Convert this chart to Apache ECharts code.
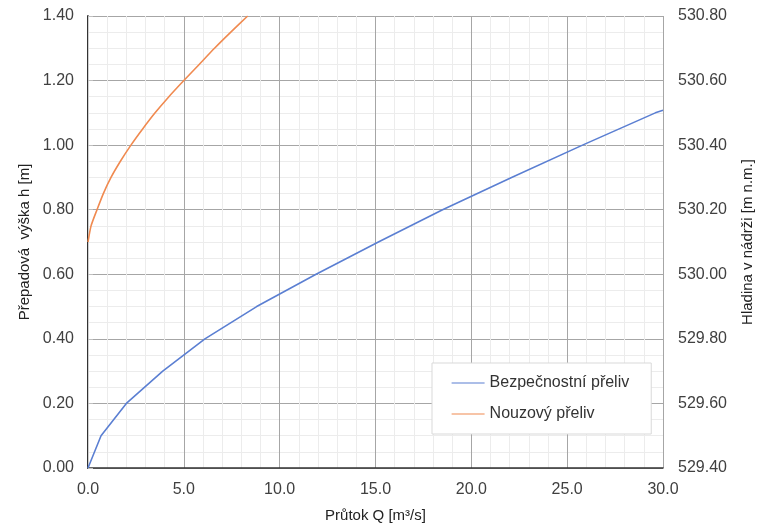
<!DOCTYPE html>
<html>
<head>
<meta charset="utf-8">
<script src="https://cdn.jsdelivr.net/npm/echarts@6/dist/echarts.min.js"></script>
<style>html,body{margin:0;padding:0;background:#fff}#c{width:767px;height:528px}</style>
</head>
<body>
<div id="c"></div>
<script>
// Bezpečnostní přeliv: Q [m3/s] vs h [m]
const safetyQ = [0, 0.68, 2.0, 3.9, 6.1, 8.8, 11.9, 15.15, 18.5, 22.1, 25.8, 29.6, 30.0];
const safetyH = [0, 0.10, 0.20, 0.30, 0.40, 0.50, 0.60, 0.70, 0.80, 0.90, 1.00, 1.10, 1.108];
// Nouzový přeliv
const emergQ = [0, 0.16, 0.47, 0.8, 1.2, 1.69, 2.24, 2.85, 3.5, 4.22, 5.0, 5.8, 6.6, 7.45, 8.33];
const emergH = [0.70, 0.75, 0.80, 0.85, 0.90, 0.95, 1.00, 1.05, 1.10, 1.15, 1.20, 1.25, 1.30, 1.35, 1.40];
const seriesNames = ['Bezpečnostní přeliv', 'Nouzový přeliv'];

const font = 'Liberation Sans, Arial, sans-serif';
const labelColor = '#404040';
const chart = echarts.init(document.getElementById('c'));
chart.setOption({
  animation: false,
  textStyle: { fontFamily: font },
  grid: { left: 88, right: 104, top: 16, bottom: 58, containLabel: false },
  legend: {
    orient: 'vertical',
    left: 432, top: 363,
    padding: [12, 22, 12, 19],
    itemWidth: 33, itemHeight: 14, itemGap: 15,
    backgroundColor: '#fff',
    borderColor: '#d9d9d9', borderWidth: 1,
    itemStyle: { opacity: 0 },
    lineStyle: { width: 1.2 },
    textStyle: { fontFamily: font, fontSize: 16, color: '#333' },
    data: seriesNames
  },
  xAxis: {
    type: 'value', min: 0, max: 30, interval: 5,
    name: 'Průtok Q [m³/s]', nameLocation: 'middle', nameGap: 40,
    nameTextStyle: { fontFamily: font, fontSize: 15, color: '#222' },
    axisLine: { show: true, onZero: false, lineStyle: { color: '#333', width: 1.5 } },
    axisTick: { show: false },
    axisLabel: { fontFamily: font, fontSize: 16, color: labelColor, margin: 14, formatter: v => v.toFixed(1) },
    splitLine: { show: true, lineStyle: { color: '#a6a6a6', width: 1 } },
    minorTick: { show: false, splitNumber: 5 },
    minorSplitLine: { show: true, lineStyle: { color: '#ececec', width: 1 } }
  },
  yAxis: [{
    type: 'value', min: 0, max: 1.4, interval: 0.2,
    name: 'Přepadová  výška h [m]', nameLocation: 'middle', nameGap: 55,
    nameTextStyle: { fontFamily: font, fontSize: 15, color: '#222' },
    axisLine: { show: true, onZero: false, lineStyle: { color: '#333', width: 2 } },
    axisTick: { show: false },
    axisLabel: { fontFamily: font, fontSize: 16, color: labelColor, margin: 14, formatter: v => v.toFixed(2) },
    splitLine: { show: true, lineStyle: { color: '#a6a6a6', width: 1 } },
    minorTick: { show: false, splitNumber: 4 },
    minorSplitLine: { show: true, lineStyle: { color: '#ececec', width: 1 } }
  }, {
    type: 'value', min: 529.4, max: 530.8, interval: 0.2,
    position: 'right',
    name: 'Hladina v nádrži [m n.m.]', nameLocation: 'middle', nameGap: 77,
    nameTextStyle: { fontFamily: font, fontSize: 15, color: '#222' },
    axisLine: { show: true, lineStyle: { color: '#d0d0d0', width: 1 } },
    axisTick: { show: true, length: 5, lineStyle: { color: '#bfbfbf' } },
    axisLabel: { fontFamily: font, fontSize: 16, color: labelColor, margin: 15, formatter: v => v.toFixed(2) },
    splitLine: { show: false }
  }],
  series: [{
    name: seriesNames[0], type: 'line', symbol: 'none', yAxisIndex: 0,
    lineStyle: { color: '#5b7fd2', width: 1.6 }, itemStyle: { color: '#5b7fd2' },
    data: safetyQ.map((q, i) => [q, safetyH[i]])
  }, {
    name: seriesNames[1], type: 'line', symbol: 'none', yAxisIndex: 0, smooth: 0.2,
    lineStyle: { color: '#f08a50', width: 1.6 }, itemStyle: { color: '#f08a50' },
    data: emergQ.map((q, i) => [q, emergH[i]])
  }]
});
</script>
</body>
</html>
